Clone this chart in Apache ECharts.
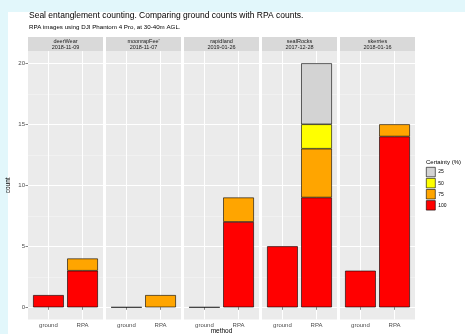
<!DOCTYPE html>
<html>
<head>
<meta charset="utf-8">
<script src="https://cdn.jsdelivr.net/npm/echarts@6/dist/echarts.min.js"></script>
<style>
html,body{margin:0;padding:0;background:#E2F7FB;}
#c{width:465px;height:334px;}
</style>
</head>
<body>
<div id="c"></div>
<script>
// ---- data ----
const sites = ['deerWear', 'moonrapFee\'', 'rapidland', 'sealRocks', 'skerries'];
const dates = ['2018-11-09', '2018-11-07', '2019-01-26', '2017-12-28', '2018-01-16'];
const methods = ['ground', 'RPA'];
const certainty = ['100', '75', '50', '25'];
// counts per site: [ground, RPA]
const c100 = [[1, 3], [0, null], [0, 7], [5, 9], [3, 14]];
const c75  = [[null, 1], [null, 1], [null, 2], [null, 4], [null, 1]];
const c50  = [[null, null], [null, null], [null, null], [null, 2], [null, null]];
const c25  = [[null, null], [null, null], [null, null], [null, 5], [null, null]];
const yTicks = [0, 5, 10, 15, 20];
const legendOrder = ['25', '50', '75', '100'];

const levelData = {'100': c100, '75': c75, '50': c50, '25': c25};
const levelColor = {'100': '#FF0000', '75': '#FFA500', '50': '#FFFF00', '25': '#D3D3D3'};

// ---- layout ----
const P0 = 28, PW = 75, STEP = 78;
const s = PW / 2.2;
const yTop20 = 63.3, y0 = 307.3;
const unit = (y0 - yTop20) / 20;
const panTop = yTop20 - unit, panBot = y0 + unit;
const H = 334;

const grid = [], xAxis = [], yAxis = [], series = [], graphic = [];
graphic.push({type:'rect', shape:{x:8, y:12, width:457, height:322}, style:{fill:'#ffffff'}, z:-100});
const n = sites.length;
for (let i = 0; i < n; i++) {
  const left = P0 + STEP * i;
  grid.push({left: left, width: PW, top: yTop20, bottom: H - y0});
  xAxis.push({gridIndex: i, type: 'value', min: 0, max: 1, show: false});
  yAxis.push({
    gridIndex: i, type: 'value', min: yTicks[0], max: yTicks[yTicks.length-1], interval: 5,
    axisLine: {show: false},
    axisTick: {show: i === 0, length: 2.5, lineStyle: {color: '#333333', width: 0.6}},
    axisLabel: {show: i === 0, fontSize: 6, color: '#4D4D4D', margin: 3, fontFamily: 'Liberation Sans'},
    splitLine: {show: true, lineStyle: {color: '#ffffff', width: 1}},
    minorTick: {show: false, splitNumber: 2},
    minorSplitLine: {show: true, lineStyle: {color: '#F6F6F6', width: 0.5}},
    name: i === 0 ? 'count' : '', nameLocation: 'middle', nameGap: 16, nameRotate: 90,
    nameTextStyle: {fontSize: 6.5, color: '#000', fontFamily: 'Liberation Sans'}
  });
  graphic.push({type:'rect', shape:{x:left, y:panTop, width:PW, height:panBot-panTop}, style:{fill:'#EBEBEB'}, z:-50});
  graphic.push({type:'rect', shape:{x:left, y:37, width:PW, height:panTop-37}, style:{fill:'#D9D9D9'}, z:-50});
  graphic.push({type:'text', x:left + PW/2, y:(37+panTop)/2, z:10,
    style:{text: sites[i] + '\n' + dates[i], fill:'#1A1A1A', font:'5.5px "Liberation Sans"', textAlign:'center', textVerticalAlign:'middle', lineHeight:6}});
}
for (let i = 0; i < n; i++) {
  const left = P0 + STEP * i + 0.6 * s;
  grid.push({left: left, width: s, top: panTop, bottom: H - panBot});
  xAxis.push({
    gridIndex: n + i, type: 'category', data: methods, boundaryGap: false,
    axisLine: {show: false},
    axisTick: {show: true, length: 2.5, lineStyle: {color: '#333333', width: 0.6}},
    axisLabel: {fontSize: 6, color: '#4D4D4D', margin: 2.5, fontFamily: 'Liberation Sans'},
    splitLine: {show: true, lineStyle: {color: '#ffffff', width: 1}}
  });
  yAxis.push({gridIndex: n + i, type: 'value', min: -1, max: 21, show: false});
  certainty.forEach(function (lv) {
    series.push({
      type: 'bar', name: lv, xAxisIndex: n + i, yAxisIndex: n + i, stack: 's' + i,
      barWidth: 0.9 * s, clip: false,
      data: levelData[lv][i],
      itemStyle: {color: levelColor[lv], borderColor: '#000000', borderWidth: 0.6},
      emphasis: {disabled: true}, animation: false
    });
  });
}
graphic.push({type:'text', x:(P0 + P0 + STEP*(n-1) + PW)/2, y:331, z:10,
  style:{text:'method', fill:'#000', font:'6.5px "Liberation Sans"', textAlign:'center', textVerticalAlign:'middle'}});
graphic.push({type:'text', x:426, y:162, z:10,
  style:{text:'Certainty (%)', fill:'#000', font:'6px "Liberation Sans"', textAlign:'left', textVerticalAlign:'middle'}});

const option = {
  animation: false,
  title: {
    text: 'Seal entanglement counting. Comparing ground counts with RPA counts.',
    subtext: 'RPA images using DJI Phantom 4 Pro, at 30-40m AGL.',
    left: 29, top: 11, padding: [0, 0, 0, 0], itemGap: 4,
    textStyle: {fontSize: 8.5, fontWeight: 'normal', color: '#000', fontFamily: 'Liberation Sans'},
    subtextStyle: {fontSize: 6.2, color: '#000', fontFamily: 'Liberation Sans'}
  },
  legend: {
    orient: 'vertical', left: 426, top: 167, padding: 0, itemGap: 1,
    itemWidth: 9, itemHeight: 9.5, icon: 'rect',
    data: legendOrder,
    textStyle: {fontSize: 5, color: '#000', fontFamily: 'Liberation Sans', padding: [0,0,0,-2]},
    itemStyle: {borderColor: '#000', borderWidth: 0.6},
    selectedMode: false
  },
  grid: grid, xAxis: xAxis, yAxis: yAxis, series: series, graphic: graphic
};
const chart = echarts.init(document.getElementById('c'), null, {renderer: 'canvas'});
chart.setOption(option);
</script>
</body>
</html>
